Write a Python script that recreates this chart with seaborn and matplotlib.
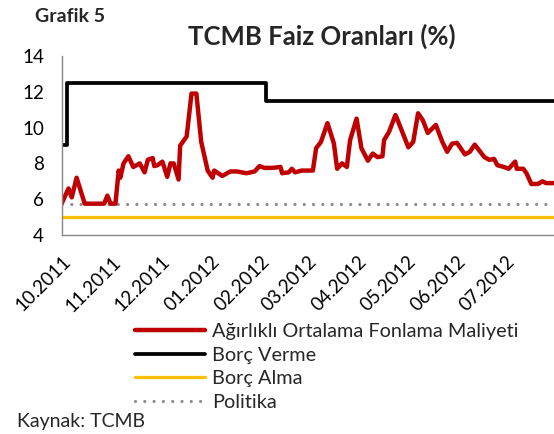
"""Grafik 5: TCMB faiz oranları (koridor ve ağırlıklı ortalama fonlama maliyeti)."""

import matplotlib

matplotlib.use("Agg")
import matplotlib.dates as mdates
import matplotlib.pyplot as plt
import pandas as pd
import seaborn as sns

sns.set_theme(style="white")
plt.rcParams["font.family"] = ["Lato", "DejaVu Sans"]

# Günler: 18.10.2011 tarihinden itibaren geçen gün sayısı
BASLANGIC = pd.Timestamp("2011-10-18")
SON_GUN = 304

afm_gun = [
    0, 4, 6, 9, 14, 26, 28, 30, 33, 35, 36, 38, 41, 44, 48, 51, 53, 56, 57,
    59, 62, 65, 67, 69, 72, 73, 77, 80, 83, 86, 90, 93, 94, 99, 104, 108,
    114, 119, 122, 125, 130, 135, 136, 140, 142, 144, 148, 155, 157, 160,
    164, 167, 168, 170, 173, 176, 178, 182, 185, 189, 192, 195, 198, 199,
    202, 206, 207, 214, 217, 220, 223, 226, 231, 235, 238, 241, 244, 249,
    252, 255, 261, 264, 267, 269, 273, 276, 278, 280, 281, 285, 287, 290,
    294, 297, 299, 304,
]
afm_deger = [
    5.8, 6.6, 6.1, 7.2, 5.75, 5.75, 6.2, 5.75, 5.75, 7.6, 7.2, 8.0, 8.4, 7.8,
    8.0, 7.5, 8.2, 8.3, 7.85, 7.9, 8.1, 7.25, 8.0, 8.0, 7.1, 9.0, 9.5, 11.9,
    11.9, 9.2, 7.6, 7.2, 7.6, 7.3, 7.55, 7.55, 7.45, 7.55, 7.85, 7.75, 7.75,
    7.8, 7.45, 7.5, 7.7, 7.5, 7.6, 7.6, 8.85, 9.2, 10.25, 9.4, 9.1, 7.7, 8.0,
    7.8, 9.3, 10.5, 8.85, 8.15, 8.55, 8.35, 8.4, 9.3, 9.75, 10.7, 10.5, 8.9,
    9.2, 10.8, 10.4, 9.7, 10.15, 9.2, 8.65, 9.1, 9.15, 8.5, 8.65, 9.05, 8.35,
    8.2, 8.25, 7.9, 7.8, 7.7, 7.9, 8.1, 7.7, 7.7, 7.45, 6.85, 6.85, 7.0, 6.9,
    6.9,
]

borc_verme_gun = [0, 3, 126, 304]
borc_verme_deger = [9.0, 12.5, 11.5, 11.5]

borc_alma_gun = [0, 304]
borc_alma_deger = [5.0, 5.0]

politika_gun = [0, 304]
politika_deger = [5.75, 5.75]

x_etiket_tarihleri = pd.date_range(BASLANGIC, periods=10, freq=pd.DateOffset(months=1))

SERI_ADLARI = [
    "Ağırlıklı Ortalama Fonlama Maliyeti",
    "Borç Verme",
    "Borç Alma",
    "Politika",
]


def _df(gun, deger):
    return pd.DataFrame(
        {"Tarih": BASLANGIC + pd.to_timedelta(gun, unit="D"), "Deger": deger}
    )


fig = plt.figure(figsize=(5.54, 4.34), dpi=100)
ax = fig.add_axes([0.112, 0.4585, 0.888, 0.4125])

sns.lineplot(data=_df(borc_alma_gun, borc_alma_deger), x="Tarih", y="Deger",
             ax=ax, color="#FFC000", linewidth=2.4, label=SERI_ADLARI[2])
sns.lineplot(data=_df(politika_gun, politika_deger), x="Tarih", y="Deger",
             ax=ax, color="#8C8C8C", linewidth=2.3,
             linestyle=(0, (0.01, 2.9)), dash_capstyle="round",
             label=SERI_ADLARI[3])
sns.lineplot(data=_df(borc_verme_gun, borc_verme_deger), x="Tarih", y="Deger",
             ax=ax, color="black", linewidth=2.7, drawstyle="steps-post",
             label=SERI_ADLARI[1])
sns.lineplot(data=_df(afm_gun, afm_deger), x="Tarih", y="Deger",
             ax=ax, color="#C00000", linewidth=3.2, label=SERI_ADLARI[0])

ax.set_xlim(BASLANGIC, BASLANGIC + pd.Timedelta(days=SON_GUN))
ax.set_ylim(4, 14)
ax.set_yticks([4, 6, 8, 10, 12, 14])
ax.set_xticks(x_etiket_tarihleri)
ax.xaxis.set_major_formatter(mdates.DateFormatter("%m.%Y"))
ax.set_xlabel("")
ax.set_ylabel("")

for side in ("top", "right"):
    ax.spines[side].set_visible(False)
for side in ("left", "bottom"):
    ax.spines[side].set_color("#868686")
    ax.spines[side].set_linewidth(1.0)

ax.tick_params(axis="both", which="major", direction="out", length=5,
               width=1.0, color="#868686", labelsize=13.5, labelcolor="black")
ax.tick_params(axis="y", pad=8)
ax.tick_params(axis="x", pad=8)
for lab in ax.get_xticklabels():
    lab.set_rotation(45)
    lab.set_ha("right")
    lab.set_rotation_mode("anchor")

# Lejant sırası: AOFM, Borç Verme, Borç Alma, Politika
handles, labels = ax.get_legend_handles_labels()
sira = [labels.index(ad) for ad in SERI_ADLARI]
ax.get_legend().remove()
fig.legend([handles[i] for i in sira], [labels[i] for i in sira],
           loc="upper left", bbox_to_anchor=(0.244, 0.256), frameon=False,
           fontsize=14.3, handlelength=3.5, handletextpad=0.35,
           labelspacing=0.34, borderaxespad=0, borderpad=0)

fig.text(0.063, 0.950, "Grafik 5", fontsize=14, fontweight="bold",
         va="baseline", ha="left")
fig.text(0.58, 0.896, "TCMB Faiz Oranları (%)", fontsize=18.5,
         fontweight="bold", va="baseline", ha="center")
fig.text(0.031, 0.016, "Kaynak: TCMB", fontsize=14, va="baseline", ha="left")

fig.savefig("out.png", dpi=100)
